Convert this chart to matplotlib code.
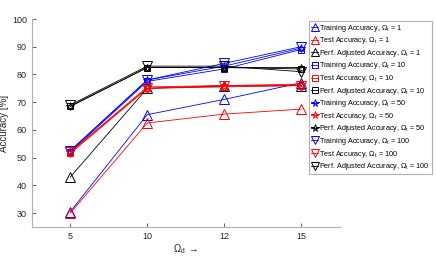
import numpy as np
import matplotlib.pyplot as plt

plt.rcParams['font.family'] = ['Liberation Sans', 'DejaVu Sans']
plt.rcParams['mathtext.fontset'] = 'custom'
plt.rcParams['mathtext.rm'] = 'Liberation Sans'
plt.rcParams['mathtext.it'] = 'Liberation Sans'

# x categories
omega_d = ['5', '10', '12', '15']
omega_t = [1, 10, 50, 100]

# accuracies [%] per omega_t: training, test, perf. adjusted
train = {1: [30.5, 65.5, 71.0, 77.0],
         10: [52.0, 77.5, 82.0, 89.0],
         50: [52.5, 78.0, 83.0, 89.5],
         100: [52.5, 78.0, 84.0, 90.0]}
test = {1: [30.0, 62.5, 65.7, 67.5],
        10: [51.5, 75.0, 75.5, 76.0],
        50: [52.0, 75.5, 76.0, 76.5],
        100: [52.0, 75.0, 76.0, 76.0]}
perf = {1: [43.0, 75.0, 75.8, 76.0],
        10: [68.5, 82.5, 82.5, 82.0],
        50: [68.5, 82.5, 82.5, 82.5],
        100: [69.0, 83.0, 83.0, 81.0]}

markers = {1: '^', 10: 's', 50: '*', 100: 'v'}
msize = {1: 6.5, 10: 5, 50: 6, 100: 6.5}

fig = plt.figure(figsize=(4.36, 2.57), dpi=100)
ax = fig.add_axes([0.073, 0.117, 0.706, 0.809])

x = np.arange(1, len(omega_d) + 1)
for t in omega_t:
    for data, col, name in [(train, 'blue', 'Training Accuracy'),
                            (test, 'red', 'Test Accuracy'),
                            (perf, 'black', 'Perf. Adjusted Accuracy')]:
        ax.plot(x, data[t], color=col, marker=markers[t], markersize=msize[t],
                markerfacecolor='none', markeredgewidth=0.7, linewidth=0.6,
                label=name + r', $\Omega_t$ = %d' % t)

ax.set_xlim(0.5, 4.5)
ax.set_ylim(25, 100)
ax.set_xticks(x)
ax.set_xticklabels(omega_d)
ax.set_yticks(np.arange(30, 101, 10))
ax.tick_params(direction='in', labelsize=6.5, colors='#262626', length=3, width=0.5)
for s in ['top', 'right']:
    ax.spines[s].set_visible(False)
for s in ['left', 'bottom']:
    ax.spines[s].set_color('#b0b0b0')
    ax.spines[s].set_linewidth(0.8)
ax.set_ylabel('Accuracy [%]', fontsize=7, color='#262626', labelpad=2)
ax.set_xlabel(r'$\Omega_d$ $\rightarrow$', fontsize=7, color='#262626', labelpad=1)

leg = fig.legend(loc='upper left', bbox_to_anchor=(0.709, 0.92), fontsize=5.2,
                 handlelength=0.9, handletextpad=0.15, labelspacing=0.22,
                 borderpad=0.3, borderaxespad=0, fancybox=False, framealpha=1,
                 edgecolor='#b0b0b0', markerscale=0.9)
leg.get_frame().set_linewidth(0.8)

fig.savefig('out.png', dpi=100)
